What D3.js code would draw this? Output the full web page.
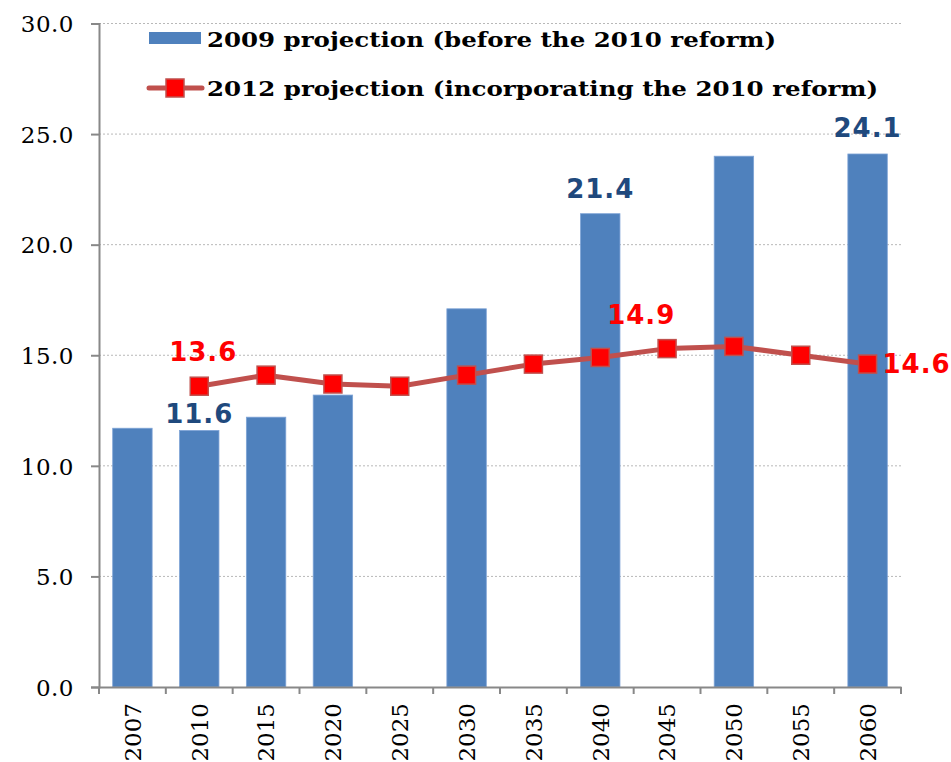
<!DOCTYPE html>
<html>
<head>
<meta charset="utf-8">
<script src="https://cdn.jsdelivr.net/npm/d3@7"></script>
<style>
  body { margin: 0; background: #fff; }
  svg { display: block; }
</style>
</head>
<body>
<div id="content"></div>
<script>
var years = ['2007', '2010', '2015', '2020', '2025', '2030', '2035', '2040', '2045', '2050', '2055', '2060'];
var proj2009 = [11.7, 11.6, 12.2, 13.2, null, 17.1, null, 21.4, null, 24.0, null, 24.1];
var proj2012 = [null, 13.6, 14.1, 13.7, 13.6, 14.1, 14.6, 14.9, 15.3, 15.4, 15.0, 14.6];
var yTicks = [0, 5, 10, 15, 20, 25, 30];
var seriesNames = ['2009 projection (before the 2010 reform)', '2012 projection (incorporating the 2010 reform)'];
var barLabelYears = ['2010', '2040', '2060'];
var lineLabelYears = ['2010', '2040', '2060'];

var margin = { top: 23.5, right: 50, bottom: 75, left: 99 };
var width = 951 - margin.left - margin.right,
    height = 762 - margin.top - margin.bottom;

var svg = d3.select('#content').append('svg')
    .attr('width', 951)
    .attr('height', 762);

var g = svg.append('g')
    .attr('transform', 'translate(' + margin.left + ',' + margin.top + ')');

var xScale = d3.scaleBand()
    .domain(years)
    .range([0, width])
    .paddingInner(0.41)
    .paddingOuter(0.205);

var xBand = d3.scaleBand()
    .domain(years)
    .range([0, width]);

var yScale = d3.scaleLinear()
    .domain([0, 30])
    .range([height, 0]);

// gridlines
g.selectAll('.grid').data(yTicks.slice(1))
  .enter().append('line')
    .attr('x1', 0)
    .attr('x2', width)
    .attr('y1', function(d){ return yScale(d); })
    .attr('y2', function(d){ return yScale(d); })
    .style('stroke', '#b8b8b8')
    .style('stroke-width', 1)
    .style('stroke-dasharray', '2,2');

// bars
var barData = years.map(function(y, i){ return { year: y, v: proj2009[i] }; })
    .filter(function(d){ return d.v != null; });

g.selectAll('rect.bar').data(barData)
  .enter().append('rect')
    .attr('x', function(d){ return xScale(d.year); })
    .attr('width', xScale.bandwidth())
    .attr('y', function(d){ return yScale(d.v); })
    .attr('height', function(d){ return height - yScale(d.v); })
    .style('fill', '#4F81BD')
    .style('stroke', '#7ea3d6')
    .style('stroke-width', 0.8);

// y axis
var yAxis = d3.axisLeft(yScale)
    .tickValues(yTicks)
    .tickSize(8)
    .tickFormat(d3.format('.1f'));

var yGuide = g.append('g').call(yAxis);
yGuide.selectAll('path').style('stroke', '#888').style('stroke-width', 2);
yGuide.selectAll('line').style('stroke', '#888').style('stroke-width', 2);
yGuide.selectAll('text')
    .attr('x', -25)
    .attr('dy', '0.36em')
    .style('font-family', '"DejaVu Serif", serif')
    .style('font-size', '23px')
    .style('letter-spacing', '0.5px')
    .style('fill', '#000');

// x axis
var xAxis = d3.axisBottom(xBand).tickSize(0).tickSizeOuter(0);
var xGuide = g.append('g')
    .attr('transform', 'translate(0,' + height + ')')
    .call(xAxis);
xGuide.selectAll('path').style('stroke', '#888').style('stroke-width', 2);
xGuide.selectAll('text')
    .attr('transform', 'rotate(-90)')
    .attr('x', -16)
    .attr('y', 0)
    .attr('dy', '0.36em')
    .style('text-anchor', 'end')
    .style('font-family', '"DejaVu Serif", serif')
    .style('font-size', '23px')
    .style('fill', '#000');

// x tick marks at band boundaries
var boundaries = years.map(function(y){ return xBand(y); }).concat([width]);
g.selectAll('.xtick').data(boundaries)
  .enter().append('line')
    .attr('x1', function(d){ return d; })
    .attr('x2', function(d){ return d; })
    .attr('y1', height)
    .attr('y2', height + 7)
    .style('stroke', '#888')
    .style('stroke-width', 2);

// line series
var lineData = years.map(function(y, i){ return { year: y, v: proj2012[i] }; })
    .filter(function(d){ return d.v != null; });

var line = d3.line()
    .x(function(d){ return xBand(d.year) + xBand.bandwidth() / 2; })
    .y(function(d){ return yScale(d.v); });

g.append('path')
    .datum(lineData)
    .attr('d', line)
    .style('fill', 'none')
    .style('stroke', '#C0504D')
    .style('stroke-width', 5)
    .style('stroke-linejoin', 'round');

var ms = 18;
g.selectAll('rect.marker').data(lineData)
  .enter().append('rect')
    .attr('x', function(d){ return xBand(d.year) + xBand.bandwidth() / 2 - ms / 2; })
    .attr('y', function(d){ return yScale(d.v) - ms / 2; })
    .attr('width', ms)
    .attr('height', ms)
    .style('fill', '#FF0000')
    .style('stroke', '#C0504D')
    .style('stroke-width', 1.5);

// data labels
var labelFont = '"DejaVu Sans", Verdana, sans-serif';
var barLabelDy = [-7, -16, -17];
g.selectAll('.barlabel').data(barData.filter(function(d){ return barLabelYears.indexOf(d.year) >= 0; }))
  .enter().append('text')
    .attr('x', function(d){ return xBand(d.year) + xBand.bandwidth() / 2; })
    .attr('y', function(d, i){ return yScale(d.v) + barLabelDy[i]; })
    .attr('text-anchor', 'middle')
    .style('font-family', labelFont)
    .style('font-weight', 'bold')
    .style('font-size', '26px')
    .style('letter-spacing', '1px')
    .style('fill', '#1F497D')
    .text(function(d){ return d.v.toFixed(1); });

var redLabels = lineData.filter(function(d){ return lineLabelYears.indexOf(d.year) >= 0; });
var redDx = [4, 41, 49], redDy = [-25, -33, 9];
g.selectAll('.linelabel').data(redLabels)
  .enter().append('text')
    .attr('x', function(d, i){ return xBand(d.year) + xBand.bandwidth() / 2 + redDx[i]; })
    .attr('y', function(d, i){ return yScale(d.v) + redDy[i]; })
    .attr('text-anchor', 'middle')
    .style('font-family', labelFont)
    .style('font-weight', 'bold')
    .style('font-size', '26px')
    .style('letter-spacing', '1px')
    .style('fill', '#FF0000')
    .text(function(d){ return d.v.toFixed(1); });

// legend
var legend = svg.append('g');
legend.append('rect')
    .attr('x', 149).attr('y', 32)
    .attr('width', 52).attr('height', 12)
    .style('fill', '#4F81BD');
legend.append('line')
    .attr('x1', 149).attr('x2', 202)
    .attr('y1', 88).attr('y2', 88)
    .style('stroke', '#C0504D')
    .style('stroke-width', 5)
    .style('stroke-linecap', 'round');
legend.append('rect')
    .attr('x', 175 - ms / 2).attr('y', 88 - ms / 2)
    .attr('width', ms).attr('height', ms)
    .style('fill', '#FF0000')
    .style('stroke', '#C0504D')
    .style('stroke-width', 1.5);
legend.selectAll('.legtext').data(seriesNames)
  .enter().append('text')
    .attr('x', 207)
    .attr('y', function(d, i){ return 47 + i * 49; })
    .attr('textLength', function(d, i){ return i === 0 ? 569 : 671; })
    .attr('lengthAdjust', 'spacingAndGlyphs')
    .style('font-family', '"DejaVu Serif", serif')
    .style('font-weight', 'bold')
    .style('font-size', '21px')
    .style('fill', '#000')
    .text(function(d){ return d; });
</script>
</body>
</html>
